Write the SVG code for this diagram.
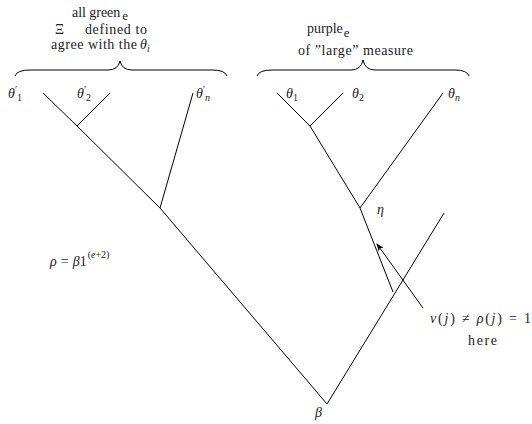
<svg xmlns="http://www.w3.org/2000/svg" width="532" height="424" viewBox="0 0 532 424">
<style>
.t{font-size:14px;fill:#222}
.m{font-size:14px;font-style:italic;fill:#222}
.s{font-size:10px}
.u{font-style:normal}
.ln{fill:none;stroke:#000;stroke-width:1}
</style>
<defs>
<marker id="ah" markerWidth="8" markerHeight="6" refX="7" refY="3" orient="auto" markerUnits="userSpaceOnUse">
<path d="M0,0 L8,3 L0,6 L2,3 Z" fill="#000"/>
</marker>
</defs>
<rect width="532" height="424" fill="#fff"/>
<g id="connectors">
<polyline class="ln" points="43,93 77,126 160,208 327,404"/>
<line class="ln" x1="110" y1="93" x2="77" y2="126"/>
<line class="ln" x1="193" y1="93" x2="160" y2="208"/>
<line class="ln" x1="277" y1="93" x2="310" y2="126"/>
<line class="ln" x1="343" y1="93" x2="310" y2="126"/>
<line class="ln" x1="310" y1="126" x2="360" y2="208"/>
<line class="ln" x1="443" y1="93" x2="360" y2="208"/>
<line class="ln" x1="360" y1="208" x2="393" y2="292"/>
<line class="ln" x1="444" y1="213" x2="327" y2="404"/>
<line class="ln" x1="423" y1="308" x2="377" y2="244" marker-end="url(#ah)"/>
<path class="ln" d="M15,76 Q17,70 30,70 L108,70 Q118,70 120,61 Q122,70 132,70 L212,70 Q225,70 227,76"/>
<path class="ln" d="M257,76 Q259,70 272,70 L351,70 Q361,70 363,60 Q365,70 375,70 L455,70 Q467,70 469,76"/>
</g>
<g font-family="'Liberation Serif', 'Times New Roman', 'DejaVu Serif', serif">
<g id="label-left">
<text class="t" x="72" y="17" textLength="56">all green<tspan dx="2" dy="3" font-size="13">e</tspan></text>
<text class="t" x="55" y="34">Ξ</text>
<text class="t" x="85" y="34" textLength="62">defined to</text>
<text class="t" x="51" y="49" textLength="86">agree with the</text>
<text class="m" x="140" y="49">θ<tspan class="s" dy="3">i</tspan></text>
</g>
<g id="label-right">
<text class="t" x="307" y="33">purple<tspan dx="1" dy="4" font-size="13">e</tspan></text>
<text class="t" x="298" y="55" textLength="115">of ”large” measure</text>
</g>
<g id="leaf-t1p"><text class="m" x="8" y="98">θ<tspan class="s u" dy="-5">′</tspan><tspan class="s u" dy="8">1</tspan></text></g>
<g id="leaf-t2p"><text class="m" x="77" y="98">θ<tspan class="s u" dy="-5">′</tspan><tspan class="s u" dy="8">2</tspan></text></g>
<g id="leaf-tnp"><text class="m" x="196" y="98">θ<tspan class="s u" dy="-5">′</tspan><tspan class="s" dy="8">n</tspan></text></g>
<g id="leaf-t1"><text class="m" x="286" y="98">θ<tspan class="s u" dy="3">1</tspan></text></g>
<g id="leaf-t2"><text class="m" x="352" y="98">θ<tspan class="s u" dy="3">2</tspan></text></g>
<g id="leaf-tn"><text class="m" x="448" y="98">θ<tspan class="s" dy="3">n</tspan></text></g>
<g id="node-eta"><text class="m" x="377" y="214">η</text></g>
<g id="node-beta"><text class="m" x="315" y="417">β</text></g>
<g id="label-rho"><text class="m" x="50" y="266">ρ<tspan class="u" dx="4">=</tspan><tspan dx="4">β</tspan><tspan class="u">1</tspan><tspan class="s" dy="-8" dx="1"><tspan class="u">(</tspan>e<tspan class="u">+2)</tspan></tspan></text></g>
<g id="label-nu"><text class="m" x="430" y="323" textLength="101">ν<tspan class="u">(</tspan>j<tspan class="u">) ≠ </tspan>ρ<tspan class="u">(</tspan>j<tspan class="u">) = 1</tspan></text>
<text class="t" x="468" y="345" textLength="29">here</text></g>
</g>
</svg>
